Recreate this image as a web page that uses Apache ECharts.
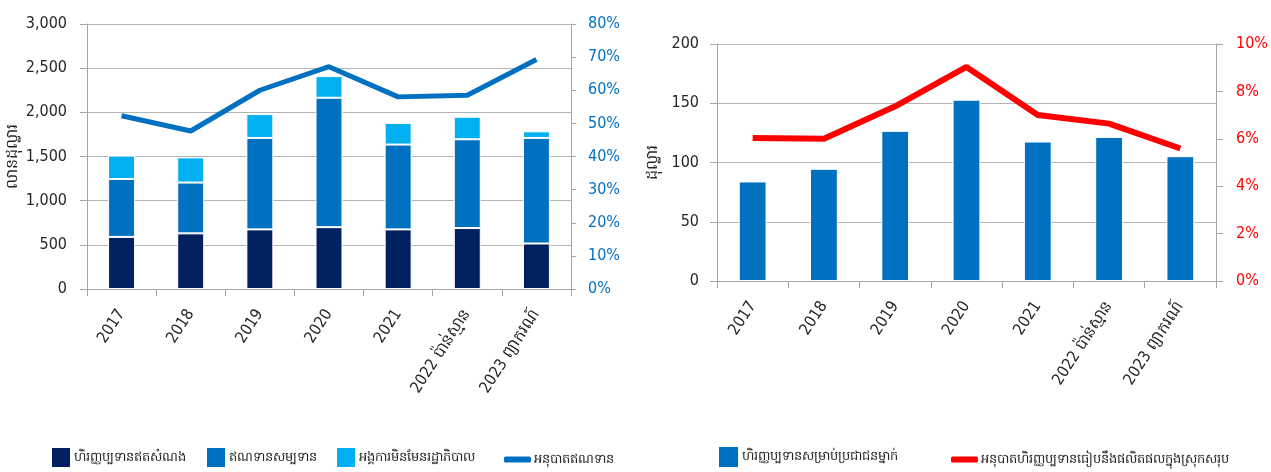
<!DOCTYPE html>
<html>
<head>
<meta charset="utf-8">
<script src="https://cdn.jsdelivr.net/npm/echarts@6/dist/echarts.min.js"></script>
<style>
html,body{margin:0;padding:0;background:#fff;}
#c{width:1271px;height:472px;}
</style>
</head>
<body>
<div id="c"></div>
<script>
var categories = ['2017','2018','2019','2020','2021','2022 ប៉ាន់ស្មាន','2023 ព្យាករណ៍'];
var grants = [590, 630, 675, 700, 675, 690, 515];
var concessionalLoans = [655, 575, 1035, 1465, 960, 1005, 1195];
var ngos = [265, 285, 270, 245, 245, 255, 75];
var loanRatio = [0.523, 0.477, 0.600, 0.671, 0.580, 0.585, 0.693];
var perCapita = [84, 94.7, 126.7, 153, 117.7, 121.6, 105.3];
var gdpRatio = [0.0603, 0.0600, 0.0737, 0.0903, 0.0700, 0.0664, 0.0559];

var names = ['ហិរញ្ញប្បទានឥតសំណង','ឥណទានសម្បទាន','អង្គការមិនមែនរដ្ឋាភិបាល','អនុបាតឥណទាន',
             'ហិរញ្ញប្បទានសម្រាប់ប្រជាជនម្នាក់','អនុបាតហិរញ្ញប្បទានធៀបនឹងផលិតផលក្នុងស្រុកសរុប'];

var FONT = "'Liberation Sans Narrow','DejaVu Sans Condensed','Noto Sans',sans-serif";
var gridColor = '#b4b4b4';
var axisColor = '#a6a6a6';
var txt = '#262626';

function catAxis(gi){
  return {
    type:'category', gridIndex:gi, data:categories,
    axisLine:{show:true,lineStyle:{color:axisColor}},
    axisTick:{show:true,length:7,lineStyle:{color:axisColor}},
    axisLabel:{rotate:57,fontSize:16,color:txt,fontFamily:FONT,margin:22,interval:0}
  };
}
function legendItem(name, left, top, icon, w, h){
  return {data:[name], left:left, top:top, icon:icon, itemWidth:w, itemHeight:h, itemGap:0,
    textStyle:{fontSize:13,color:txt,fontFamily:FONT,padding:[0,0,0,-2]}, selectedMode:false};
}
var lblPad = [0,0,11,0];

var chart = echarts.init(document.getElementById('c'));
chart.setOption({
  animation:false,
  textStyle:{fontFamily:FONT},
  grid:[
    {left:87, right:700, top:24, bottom:183},
    {left:717, right:52, top:44, bottom:191}
  ],
  xAxis:[catAxis(0), catAxis(1)],
  yAxis:[
    {type:'value', gridIndex:0, min:0, max:3000, interval:500,
      name:'លានដុល្លារ', nameLocation:'middle', nameRotate:90, nameGap:66,
      nameTextStyle:{fontSize:16,color:txt},
      axisLine:{show:true,lineStyle:{color:axisColor}},
      axisTick:{show:true,length:7,lineStyle:{color:axisColor}},
      splitLine:{lineStyle:{color:gridColor}},
      axisLabel:{fontSize:16,color:txt,margin:20,padding:lblPad,
        formatter:function(v){return v.toLocaleString('en-US');}}},
    {type:'value', gridIndex:0, min:0, max:0.8, interval:0.1, position:'right',
      axisLine:{show:true,lineStyle:{color:axisColor}},
      axisTick:{show:true,length:5,lineStyle:{color:axisColor}},
      splitLine:{show:false},
      axisLabel:{fontSize:16,color:'#0070C0',margin:17,padding:lblPad,
        formatter:function(v){return Math.round(v*100)+'%';}}},
    {type:'value', gridIndex:1, min:0, max:200, interval:50,
      name:'ដុល្លារ', nameLocation:'middle', nameRotate:90, nameGap:56,
      nameTextStyle:{fontSize:16,color:txt},
      axisLine:{show:true,lineStyle:{color:axisColor}},
      axisTick:{show:true,length:7,lineStyle:{color:axisColor}},
      splitLine:{lineStyle:{color:gridColor}},
      axisLabel:{fontSize:16,color:txt,margin:18,padding:lblPad}},
    {type:'value', gridIndex:1, min:0, max:0.1, interval:0.02, position:'right',
      axisLine:{show:true,lineStyle:{color:axisColor}},
      axisTick:{show:true,length:7,lineStyle:{color:axisColor}},
      splitLine:{show:false},
      axisLabel:{fontSize:16,color:'#FF0000',margin:20,padding:lblPad,
        formatter:function(v){return Math.round(v*100)+'%';}}}
  ],
  legend:[
    legendItem(names[0], 45, 441, 'rect', 20, 21),
    legendItem(names[1], 200, 441, 'rect', 20, 21),
    legendItem(names[2], 330, 441, 'rect', 20, 21),
    legendItem(names[3], 499, 448, 'roundRect', 27, 6),
    legendItem(names[4], 712, 440, 'rect', 21, 22),
    legendItem(names[5], 946, 448, 'roundRect', 27, 6)
  ],
  series:[
    {name:names[0], type:'bar', stack:'a', xAxisIndex:0, yAxisIndex:0, data:grants, barWidth:'39%',
      itemStyle:{color:'#002060', borderColor:'#ffffff', borderWidth:1}},
    {name:names[1], type:'bar', stack:'a', xAxisIndex:0, yAxisIndex:0, data:concessionalLoans,
      itemStyle:{color:'#0070C0', borderColor:'#ffffff', borderWidth:1}},
    {name:names[2], type:'bar', stack:'a', xAxisIndex:0, yAxisIndex:0, data:ngos,
      itemStyle:{color:'#00B0F0', borderColor:'#ffffff', borderWidth:1}},
    {name:names[3], type:'line', xAxisIndex:0, yAxisIndex:1, data:loanRatio, symbol:'none',
      lineStyle:{color:'#0070C0', width:5}, itemStyle:{color:'#0070C0'}},
    {name:names[4], type:'bar', xAxisIndex:1, yAxisIndex:2, data:perCapita, barWidth:'39%',
      itemStyle:{color:'#0070C0', borderColor:'#ffffff', borderWidth:1}},
    {name:names[5], type:'line', xAxisIndex:1, yAxisIndex:3, data:gdpRatio, symbol:'none',
      lineStyle:{color:'#FF0000', width:6}, itemStyle:{color:'#FF0000'}}
  ]
});
</script>
</body>
</html>
